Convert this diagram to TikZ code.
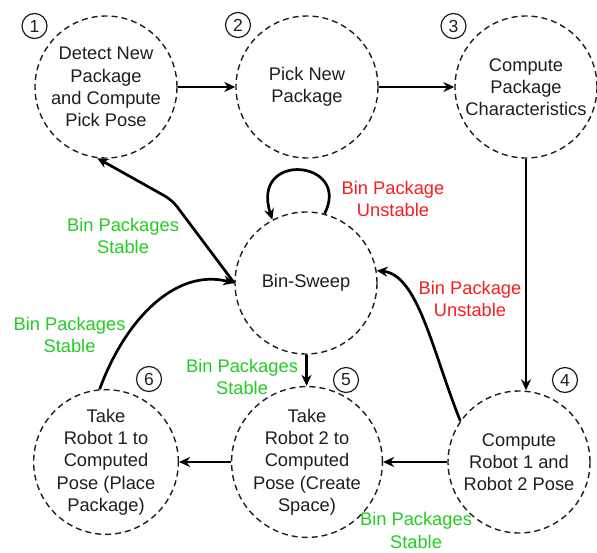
\documentclass[tikz,border=0pt]{standalone}
\usepackage{fontspec}
\setmainfont{Liberation Sans}
\usetikzlibrary{arrows.meta}
\definecolor{lgreen}{RGB}{34,204,34}
\definecolor{lred}{RGB}{245,30,30}
\definecolor{ink}{RGB}{30,30,30}
\begin{document}
\begin{tikzpicture}[x=1pt,y=-1pt,
 stnode/.style={circle,draw=ink,dash pattern=on 6pt off 4pt,line width=1.4pt,minimum size=142pt,inner sep=0pt,align=center,text=ink,font=\fontsize{18.3}{22.3}\selectfont},
 num/.style={circle,draw=ink,line width=1.2pt,minimum size=25pt,inner sep=0pt,font=\fontsize{17.5}{20}\selectfont,text=ink},
 conn/.style={line width=2.7pt,draw=black,-{Stealth[length=11pt,width=10pt]}},
 lab/.style={align=center,inner sep=0.5pt,font=\fontsize{18.3}{22.3}\selectfont},
]
\useasboundingbox (0,0) rectangle (597,552);
\node[stnode] (s1) at (106,87) {Detect New\\Package\\and Compute\\Pick Pose};
\node[stnode] (s2) at (307,87) {Pick New\\Package};
\node[stnode] (s3) at (526,87) {Compute\\Package\\Characteristics};
\node[stnode] (bs) at (306,283) {Bin-Sweep};
\node[stnode] (s4) at (519,462) {Compute\\Robot 1 and\\Robot 2 Pose};
\node[stnode] (s5) at (307,462) {Take\\Robot 2 to\\Computed\\Pose (Create\\Space)};
\node[stnode] (s6) at (106,462) {Take\\Robot 1 to\\Computed\\Pose (Place\\Package)};

\node[num] (n1) at (34.5,26) {1};
\node[num] (n2) at (238,25) {2};
\node[num] (n3) at (453.5,26) {3};
\node[num] (n4) at (565,380) {4};
\node[num] (n5) at (346,380) {5};
\node[num] (n6) at (149,379) {6};

\draw[conn] (s1) -- (s2);
\draw[conn] (s2) -- (s3);
\draw[conn] (s3.south) -- (s3.south |- s4.north);
\draw[conn] (bs) -- (s5);
\draw[conn] (s4) -- (s5);
\draw[conn] (s5) -- (s6);
\draw[conn] (bs.75) .. controls (352,160) and (250,150) .. (bs.118);
\draw[conn] (s4.145) .. controls (432,350) and (418,275) .. (bs.10);
\draw[conn,rounded corners=8pt] (bs.180) -- (172,200) -- (s1.263);
\draw[conn] (s6.95) .. controls (125,320) and (175,268) .. (bs.180);

\node[lab,text=lred] (l1) at (393,199) {Bin Package\\Unstable};
\node[lab,text=lgreen] (l2) at (123,236) {Bin Packages\\Stable};
\node[lab,text=lred] (l3) at (470,299) {Bin Package\\Unstable};
\node[lab,text=lgreen] (l4) at (69.5,335) {Bin Packages\\Stable};
\node[lab,text=lgreen] (l5) at (242,377) {Bin Packages\\Stable};
\node[lab,text=lgreen] (l6) at (416,530.5) {Bin Packages\\Stable};
\end{tikzpicture}
\end{document}
